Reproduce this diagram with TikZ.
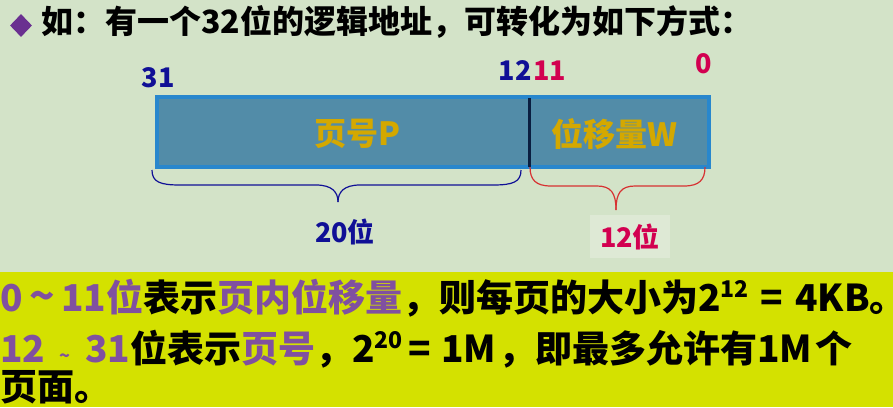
\documentclass[tikz,border=0pt]{standalone}
\usepackage{fontspec}
\setmainfont{Noto Sans CJK SC}
\usetikzlibrary{shapes.geometric}
\definecolor{bg}{RGB}{211,227,200}
\definecolor{band}{RGB}{212,225,0}
\definecolor{navy}{RGB}{16,16,150}
\definecolor{crim}{RGB}{210,0,80}
\definecolor{redbrace}{RGB}{215,50,50}
\definecolor{boxfill}{RGB}{82,140,168}
\definecolor{boxedge}{RGB}{40,135,205}
\definecolor{gold}{RGB}{212,168,0}
\definecolor{purp}{RGB}{128,80,160}
\definecolor{divider}{RGB}{10,30,64}
\definecolor{diam}{RGB}{106,48,144}
\definecolor{lightbox}{RGB}{222,233,213}
\newcommand{\fs}[1]{\fontsize{#1}{#1}\selectfont}
\begin{document}
\begin{tikzpicture}[x=1pt,y=-1pt,
  txt/.style={inner sep=0pt, font=\bfseries},
  bitnum/.style={txt, font=\bfseries\fs{27}},
  fieldtxt/.style={txt, text=gold, font=\bfseries\fs{32}},
  widthtxt/.style={txt, font=\bfseries\fs{27}},
  bottomtxt/.style={txt, anchor=base west, font=\bfseries\fs{37}},
  brace/.style={line width=1.2pt}
]
\useasboundingbox (0,0) rectangle (893,407);
\fill[bg] (0,0) rectangle (893,407);
\fill[band] (0,272) rectangle (893,407);
% title
\node[diamond, fill=diam, inner sep=0pt, minimum width=22pt, minimum height=23pt] (dm) at (21,25.5) {};
\node[txt, anchor=base west, font=\bfseries\fs{32}] (title) at (41,33) {如：有一个32位的逻辑地址，可转化为如下方式：};
% address box
\node[draw=boxedge, line width=4pt, fill=boxfill, minimum width=552pt, minimum height=70pt, inner sep=0pt] (addr) at (433,131.5) {};
\coordinate (dtop) at (529.5,98);
\coordinate (dbot) at (529.5,167);
\draw[divider, line width=3.5pt] (dtop) -- (dbot);
\node[fieldtxt] (page) at (357,134) {页号P};
\node[fieldtxt] (off) at (614,134) {位移量W};
% bit numbers
\node[bitnum, text=navy, anchor=base] (n31) at (158,87) {31};
\node[bitnum, text=navy, anchor=base east] (n12) at (532,80) {12};
\node[bitnum, text=crim, anchor=base west] (n11) at (533,80) {11};
\node[bitnum, text=crim, anchor=base] (n0) at (704,73) {0};
% braces
\coordinate (b1l) at (152,170);
\coordinate (b1r) at (521,170);
\coordinate (b1t) at (338,202);
\draw[navy, brace] (b1l) .. controls (152,182) and (160,185) .. (180,185) -- (316,185) .. controls (332,185) and (338,192) .. (b1t);
\draw[navy, brace] (b1r) .. controls (521,182) and (513,185) .. (493,185) -- (360,185) .. controls (344,185) and (338,192) .. (b1t);
\coordinate (b2l) at (530,167);
\coordinate (b2r) at (705,167);
\coordinate (b2t) at (616,210);
\draw[redbrace, brace] (b2l) .. controls (530,180) and (536,186) .. (551,186) -- (597,186) .. controls (611,186) and (616,193) .. (b2t);
\draw[redbrace, brace] (b2r) .. controls (705,180) and (699,186) .. (684,186) -- (635,186) .. controls (621,186) and (616,193) .. (b2t);
\node[widthtxt, text=navy] (w20) at (345,231.5) {20位};
\node[fill=lightbox, minimum width=80pt, minimum height=43pt, inner sep=0pt] (w12bg) at (630,236.5) {};
\node[widthtxt, text=crim] (w12) at (630,236.5) {12位};
% bottom text
\node[bottomtxt] (l1) at (0,311) {\textcolor{purp}{\makebox[106pt][s]{0\hfill{\fs{42}\textasciitilde}\hfill 11}位}表示\textcolor{purp}{页内位移量}，则每页的大小为2\raisebox{14pt}{\fs{23}12}\hspace{12pt}=\hspace{12pt}4KB\makebox[12pt][l]{。}};
\node[bottomtxt] (l2) at (0,362) {\textcolor{purp}{\makebox[130pt][s]{12\hfill{\fs{18}\textasciitilde}\hfill 31}}位表示\textcolor{purp}{页号}，2\raisebox{14pt}{\fs{23}20}\hspace{6pt}=\hspace{10pt}1M\hspace{2pt}，即最多允许有1M\hspace{3pt}个};
\node[bottomtxt] (l3) at (0,400) {页面。};
\end{tikzpicture}
\end{document}
